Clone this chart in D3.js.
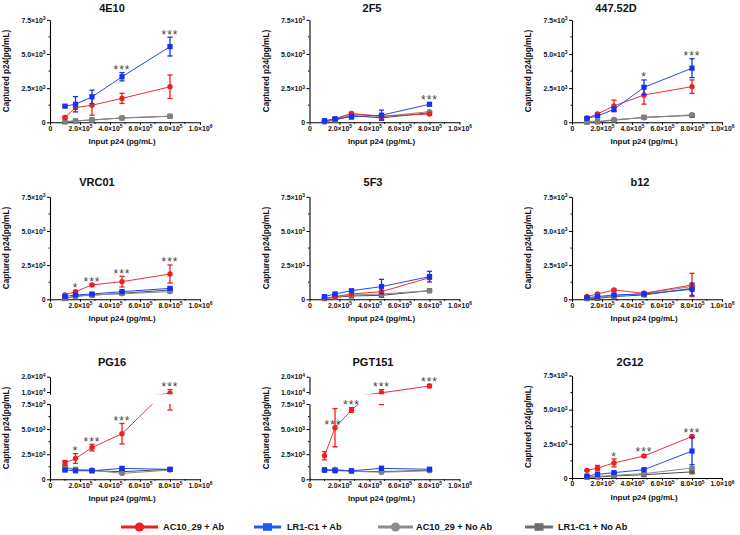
<!DOCTYPE html>
<html><head><meta charset="utf-8">
<script src="https://cdn.jsdelivr.net/npm/d3@7"></script>
<style>
body{margin:0;background:#fff}
svg{display:block}
text{font-family:Arial,"Liberation Sans",Helvetica,sans-serif}
</style></head>
<body><svg id="chart" width="740" height="535"></svg>
<script>
// ---------- DATA ----------
const xInput = [1.0e5, 1.7e5, 2.8e5, 4.8e5, 8.0e5];
const panelNames = ["4E10","2F5","447.52D","VRC01","5F3","b12","PG16","PGT151","2G12"];
const brokenPanels = ["PG16","PGT151"];
const seriesNames = ["AC10_29 + Ab","LR1-C1 + Ab","AC10_29 + No Ab","LR1-C1 + No Ab"];

const ac10Ab = [
  [350,1080,1250,1750,2600],
  [60,270,640,450,600],
  [300,610,1200,2000,2610],
  [320,560,1050,1290,1850],
  [70,200,390,560,1580],
  [200,390,680,440,1050],
  [1650,2070,3160,4540,9200],
  [2350,5140,6900,9500,13900],
  [560,720,1100,1610,3040]
];
const ac10AbErr = [
  [80,120,730,370,860],
  [30,60,80,60,60],
  [50,80,430,670,490],
  [50,80,60,390,660],
  [20,40,40,80,120],
  [40,60,60,60,850],
  [230,490,330,1020,2300],
  [415,1900,230,2050,1000],
  [60,200,290,80,80]
];
const lr1Ab = [
  [1180,1320,1860,3330,5540],
  [120,250,400,520,1320],
  [300,460,950,2560,3960],
  [200,320,390,560,800],
  [200,390,630,930,1660],
  [120,200,320,390,730],
  [920,850,850,1090,990],
  [920,850,850,1090,1000],
  [150,270,390,610,1970]
];
const lr1AbErr = [
  [60,560,490,300,690],
  [40,80,150,370,120],
  [60,80,150,540,690],
  [40,60,60,80,120],
  [40,60,80,530,390],
  [30,40,50,60,450],
  [100,80,80,150,120],
  [100,60,60,200,120],
  [30,40,60,60,1000]
];
const ac10NoAb = [
  [50,100,150,330,450],
  [30,200,620,420,780],
  [20,50,200,330,550],
  [70,200,320,400,560],
  [50,150,320,390,630],
  [50,150,240,440,930],
  [1090,990,920,590,920],
  [900,1000,800,700,850],
  [70,120,200,320,730]
];
const lr1NoAb = [
  [30,100,180,310,440],
  [50,150,500,320,700],
  [10,40,150,370,500],
  [50,240,300,440,680],
  [50,150,240,290,630],
  [50,70,200,320,800],
  [1180,990,850,760,990],
  [950,950,820,760,900],
  [50,70,150,240,450]
];
const noAbErr = [
  [20,20,30,40,40],
  [30,40,80,60,60],
  [20,20,40,40,60],
  [20,40,40,60,80],
  [20,30,40,60,60],
  [20,30,40,60,80],
  [60,60,60,80,60],
  [60,60,60,80,60],
  [20,20,30,40,80]
];
const stars = [
  ["","","","***","***"],
  ["","","","","***"],
  ["","","","*","***"],
  ["","*","***","***","***"],
  ["","","","",""],
  ["","","","",""],
  ["","*","***","***","***"],
  ["","***","***","***","***"],
  ["","","*","***","***"]
];

const xTickVals = [0,2e5,4e5,6e5,8e5,1e6];
const xTickMant = ["0","2.0×10","4.0×10","6.0×10","8.0×10","1.0×10"];
const xTickExp  = ["","5","5","5","5","6"];
const yTickVals = [0,2500,5000,7500];
const yTickMant = ["0","2.5×10","5.0×10","7.5×10"];
const yTickExp  = ["","3","3","3"];
const yUpTickVals = [10000,20000];
const yUpTickMant = ["1.0×10","2.0×10"];
const yUpTickExp  = ["4","4"];

const yAxisTitle = "Captured p24(pg/mL)";
const xAxisTitle = "Input p24 (pg/mL)";

// ---------- LAYOUT / STYLE ----------
const svg = d3.select("#chart");
const colX = [50, 309.5, 572];
const rowBase = [122.3, 299.3, 478];
const plotW = 150, plotH = 102.5;
const titleX = [[112,372,616],[97,373,640],[112,373,630]];
const titleY = [12, 186, 366];
// star groups anchored at the point itself (instead of the error-bar top)
const starAtPoint = {"PGT151":[1]};

const styles = [
  {color:"#f01e1e", line:"#f03030", shape:"circle"},
  {color:"#1432f0", line:"#2a45f5", shape:"square"},
  {color:"#808080", line:"#8c8c8c", shape:"circle"},
  {color:"#5a5a5a", line:"#4a4a4a", shape:"square"}
];
const seriesData = [ac10Ab, lr1Ab, ac10NoAb, lr1NoAb];
const seriesErr = [ac10AbErr, lr1AbErr, noAbErr, noAbErr];
const drawOrder = [3,2,0,1];
const tickFont = "6.9px";

function supText(t, mant, exp){
  t.text(null);
  t.append("tspan").text(mant);
  if(exp) t.append("tspan").attr("dy","-0.45em").attr("font-size","0.72em").text(exp);
}

panelNames.forEach((name,i)=>{
  const col = i%3, row = Math.floor(i/3);
  const x0 = colX[col];
  const broken = brokenPanels.includes(name);
  const g = svg.append("g");
  const x = d3.scaleLinear().domain([0,1e6]).range([x0, x0+plotW]);
  let yLo, yHi = null;
  if(broken){
    yLo = d3.scaleLinear().domain([0,7500]).range([479.3,404]);
    yHi = d3.scaleLinear().domain([8500,20000]).range([394.3,376.7]);
  } else {
    const b = rowBase[row];
    yLo = d3.scaleLinear().domain([0,7500]).range([b, b-plotH]);
  }
  const yBase = yLo(0);
  const yTopAll = broken ? yHi(20000) : yLo(7500);

  g.append("text").attr("x", titleX[row][col]).attr("y", titleY[row])
    .attr("text-anchor","middle").attr("font-size","11px").attr("font-weight","bold")
    .attr("fill","#111").text(name);

  const xa = g.append("g").attr("transform",`translate(0,${yBase})`)
    .call(d3.axisBottom(x).tickValues(xTickVals).tickSize(2.5).tickPadding(1).tickSizeOuter(0));
  xa.selectAll(".tick text").attr("font-size",tickFont).attr("font-weight","bold").attr("fill","#111")
    .each(function(d,k){ supText(d3.select(this), xTickMant[k], xTickExp[k]); });
  g.selectAll(null).data([1e5,3e5,5e5,7e5,9e5]).enter().append("line")
    .attr("x1",d=>x(d)).attr("x2",d=>x(d)).attr("y1",yBase).attr("y2",yBase+1.5).attr("stroke","#000");

  const ya = g.append("g").attr("transform",`translate(${x0},0)`)
    .call(d3.axisLeft(yLo).tickValues(yTickVals).tickSize(3).tickPadding(1.5).tickSizeOuter(0));
  ya.selectAll(".tick text").attr("font-size",tickFont).attr("font-weight","bold").attr("fill","#111")
    .each(function(d,k){ supText(d3.select(this), yTickMant[k], yTickExp[k]); });
  g.selectAll(null).data([1250,3750,6250]).enter().append("line")
    .attr("x1",x0).attr("x2",x0-1.5).attr("y1",d=>yLo(d)).attr("y2",d=>yLo(d)).attr("stroke","#000");
  if(broken){
    const yb = g.append("g").attr("transform",`translate(${x0},0)`)
      .call(d3.axisLeft(yHi).tickValues(yUpTickVals).tickSize(3).tickPadding(1.5).tickSizeOuter(0));
    yb.selectAll(".tick text").attr("font-size",tickFont).attr("font-weight","bold").attr("fill","#111")
      .each(function(d,k){ supText(d3.select(this), yUpTickMant[k], yUpTickExp[k]); });
  }
  g.selectAll(".domain").attr("stroke","#000").attr("stroke-width",1.1);

  const yMid = (yBase + yTopAll)/2;
  g.append("text").attr("transform",`translate(${x0-41},${yMid}) rotate(-90)`)
    .attr("text-anchor","middle").attr("font-size","8.2px").attr("font-weight","bold").attr("fill","#111")
    .text(yAxisTitle);
  g.append("text").attr("x", x0+72).attr("y", yBase+22)
    .attr("text-anchor","middle").attr("font-size","8px").attr("font-weight","bold").attr("fill","#111")
    .text(xAxisTitle);

  let segs;
  if(broken){
    const cl = "lo"+i, ch = "hi"+i;
    const defs = svg.append("defs");
    defs.append("clipPath").attr("id",cl).append("rect").attr("x",x0-10).attr("y",404).attr("width",plotW+20).attr("height",90);
    defs.append("clipPath").attr("id",ch).append("rect").attr("x",x0-10).attr("y",360).attr("width",plotW+20).attr("height",394.3-360);
    segs = [{y:yLo, clip:`url(#${cl})`, lo:-Infinity, hi:7500},{y:yHi, clip:`url(#${ch})`, lo:8500, hi:Infinity}];
  } else {
    segs = [{y:yLo, clip:null, lo:-Infinity, hi:Infinity}];
  }

  drawOrder.forEach(s=>{
    const vals = seriesData[s][i], errs = seriesErr[s][i], st = styles[s];
    segs.forEach(seg=>{
      const sg = g.append("g");
      if(seg.clip) sg.attr("clip-path", seg.clip);
      const line = d3.line().x((d,j)=>x(xInput[j])).y(d=>seg.y(d));
      sg.append("path").datum(vals).attr("d",line).attr("fill","none")
        .attr("stroke",st.line).attr("stroke-width",1);
      vals.forEach((v,j)=>{
        const e = errs[j]; if(!e) return;
        const xx = x(xInput[j]);
        sg.append("line").attr("x1",xx).attr("x2",xx).attr("y1",seg.y(v-e)).attr("y2",seg.y(v+e))
          .attr("stroke",st.color).attr("stroke-width",1.3);
        [v-e, v+e].forEach(c=>{
          if(c>=seg.lo && c<=seg.hi){
            sg.append("line").attr("x1",xx-2.6).attr("x2",xx+2.6).attr("y1",seg.y(c)).attr("y2",seg.y(c))
              .attr("stroke",st.color).attr("stroke-width",1.3);
          }
        });
      });
      vals.forEach((v,j)=>{
        if(broken && seg.hi===7500 && v>7500) return;
        if(broken && seg.lo===8500 && v<=7500) return;
        const xx = x(xInput[j]), yy = seg.y(v);
        if(st.shape==="circle"){
          sg.append("circle").attr("cx",xx).attr("cy",yy).attr("r",2.7).attr("fill",st.color);
        } else {
          sg.append("rect").attr("x",xx-2.6).attr("y",yy-2.6).attr("width",5.2).attr("height",5.2).attr("fill",st.color);
        }
      });
    });
  });

  stars[i].forEach((s,j)=>{
    if(!s) return;
    const atPt = (starAtPoint[name]||[]).includes(j);
    const top = atPt ? Math.max(ac10Ab[i][j], lr1Ab[i][j])
      : Math.max(ac10Ab[i][j]+ac10AbErr[i][j], lr1Ab[i][j]+lr1AbErr[i][j]);
    const yy = broken && top>7500 ? yHi(Math.max(top,8500)) : yLo(top);
    g.append("text").attr("x", x(xInput[j]) - (atPt?2:0)).attr("y", yy+1.5)
      .attr("text-anchor","middle").attr("font-size","12px").attr("letter-spacing","1px")
      .attr("fill","#444").text(s);
  });
});

// ---------- LEGEND ----------
const legY = 527;
const legItems = [
  {x1:121,x2:158,tx:163},
  {x1:254,x2:281,tx:287},
  {x1:378,x2:413,tx:416},
  {x1:525,x2:553,tx:558}
];
const legColors = ["#f01e1e","#1a5cf5","#8c8c8c","#6e6e6e"];
seriesNames.forEach((n,k)=>{
  const it = legItems[k], c = legColors[k], cx = (it.x1+it.x2)/2;
  const lg = svg.append("g");
  lg.append("line").attr("x1",it.x1).attr("x2",it.x2).attr("y1",legY).attr("y2",legY)
    .attr("stroke",c).attr("stroke-width",3);
  if(styles[k].shape==="circle"){
    lg.append("circle").attr("cx",cx).attr("cy",legY).attr("r",4.6).attr("fill",c);
  } else {
    lg.append("rect").attr("x",cx-4.5).attr("y",legY-3.8).attr("width",9).attr("height",7.6).attr("fill",c);
  }
  lg.append("text").attr("x",it.tx).attr("y",legY+3.3).attr("font-size","9.2px").attr("font-weight","bold")
    .attr("fill","#111").text(n);
});
</script></body></html>
